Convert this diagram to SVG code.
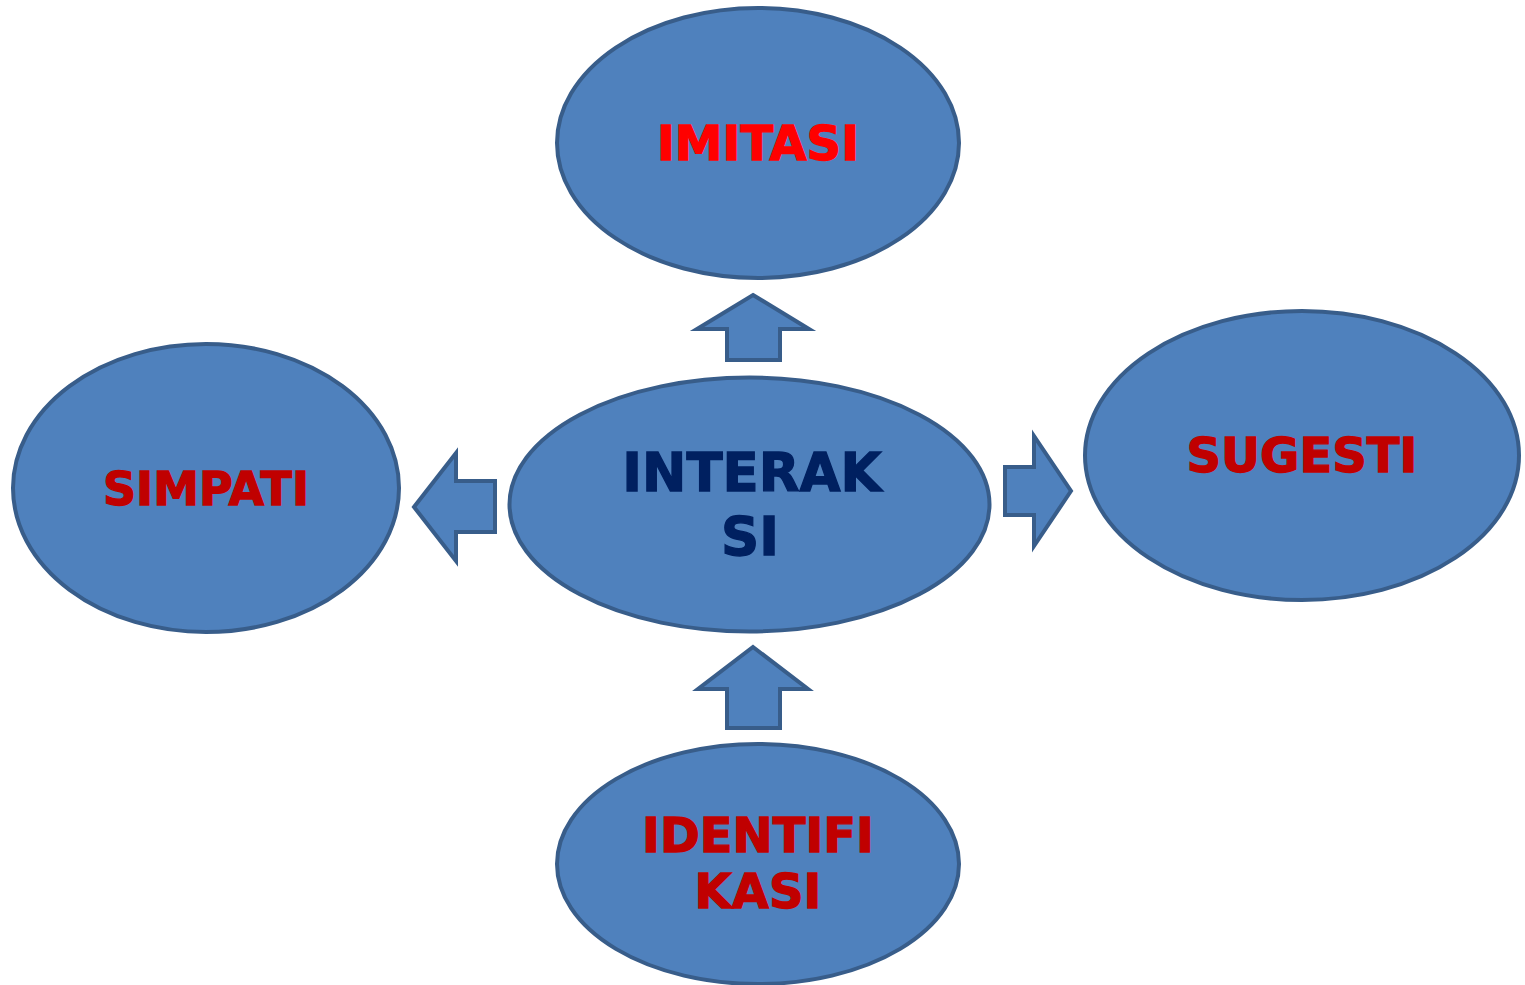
<svg xmlns="http://www.w3.org/2000/svg" width="1525" height="985" viewBox="0 0 1525 985">
<style>
.n{fill:#4F81BD;stroke:#385D8A;stroke-width:4}
.a{fill:#4F81BD;stroke:#385D8A;stroke-width:4;stroke-linejoin:miter}
text{font-family:"DejaVu Sans","Liberation Sans",sans-serif;font-weight:bold;text-anchor:middle;stroke-width:1.3}
.r{fill:#C00000;stroke:#C00000}
.b{fill:#002060;stroke:#002060}
</style>
<rect width="1525" height="985" fill="#fff"/>
<g id="imitasi"><ellipse class="n" cx="758" cy="143" rx="201" ry="135"/><text x="758" y="160" font-size="48" fill="#FF0000" stroke="#FF0000">IMITASI</text></g>
<g id="simpati"><ellipse class="n" cx="206" cy="488" rx="193" ry="144"/><text class="r" x="206" y="505" font-size="46">SIMPATI</text></g>
<g id="interaksi"><ellipse class="n" cx="749.5" cy="504.5" rx="240" ry="127"/><text class="b" x="752" y="491" font-size="53">INTERAK</text><text class="b" x="750" y="555" font-size="53">SI</text></g>
<g id="sugesti"><ellipse class="n" cx="1302" cy="455.5" rx="217" ry="144.5"/><text class="r" x="1302" y="472" font-size="48">SUGESTI</text></g>
<g id="identifikasi"><ellipse class="n" cx="758" cy="864" rx="201" ry="120"/><text class="r" x="758" y="852" font-size="48">IDENTIFI</text><text class="r" x="758" y="908" font-size="48">KASI</text></g>
<g id="connectors">
<polygon class="a" points="753,295 809,329 780,329 780,360 727,360 727,329 697,329"/>
<polygon class="a" points="1071,491 1034,546 1034,515 1005,515 1005,467 1034,467 1034,436"/>
<polygon class="a" points="414,507 456,453 456,481 495,481 495,532 456,532 456,561"/>
<polygon class="a" points="753,647 808,689 780,689 780,728 727,728 727,689 698,689"/>
</g>
</svg>
